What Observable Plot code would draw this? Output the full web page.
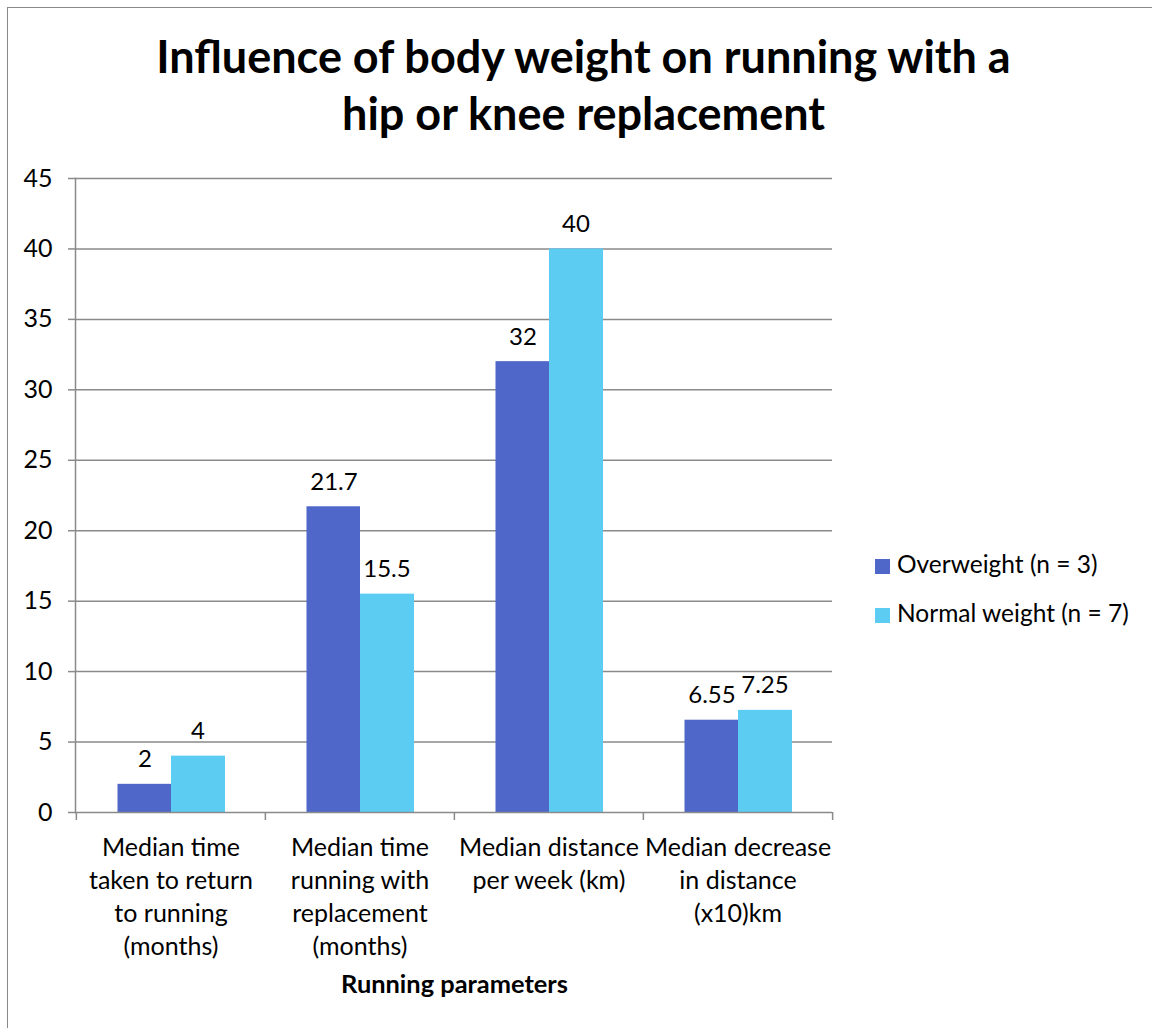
<!DOCTYPE html>
<html>
<head>
<meta charset="utf-8">
<script src="https://cdn.jsdelivr.net/npm/d3@7"></script>
<script src="https://cdn.jsdelivr.net/npm/@observablehq/plot@0.6"></script>
<style>
  html, body { margin: 0; padding: 0; background: #fff; }
  body { width: 1152px; height: 1028px; overflow: hidden; position: relative; font-family: Lato, "Open Sans", sans-serif; color: #000; }
  #border { position: absolute; left: 7px; top: 7px; width: 1300px; height: 1200px; border-left: 1.5px solid #888; border-top: 1.5px solid #888; box-sizing: border-box; }
  #chart { position: absolute; left: 0; top: 0; }
  #title { position: absolute; left: 583.5px; top: 28px; transform: translateX(-50%); white-space: nowrap; text-align: center; font-weight: 700; font-size: 45px; line-height: 57px; }
  #xtitle { position: absolute; left: 454.5px; top: 968px; transform: translateX(-50%); white-space: nowrap; font-weight: 700; font-size: 25.4px; line-height: 30.5px; }
  .leg { position: absolute; left: 875px; font-size: 24.5px; line-height: 29.4px; white-space: nowrap; }
  .leg .sw { position: absolute; left: 0; width: 15px; height: 15px; }
  .leg .lt { position: absolute; left: 22px; top: 0; }
</style>
</head>
<body>
<div id="border"></div>
<div id="chart"></div>
<div id="title">Influence of body weight on running with a<br>hip or knee replacement</div>
<div id="xtitle">Running parameters</div>
<div id="legend"></div>
<script>
// ---- data ----
const categories = [
  "Median time\ntaken to return\nto running\n(months)",
  "Median time\nrunning with\nreplacement\n(months)",
  "Median distance\nper week (km)",
  "Median decrease\nin distance\n(x10)km"
];
const seriesNames = ["Overweight (n = 3)", "Normal weight (n = 7)"];
const overweight = [2, 21.7, 32, 6.55];
const normalWeight = [4, 15.5, 40, 7.25];
const yTicks = [0, 5, 10, 15, 20, 25, 30, 35, 40, 45];
const colors = ["#4F67C8", "#5DCCF3"];

// ---- tables ----
const over = categories.map((c, i) => ({category: c, value: overweight[i], series: seriesNames[0]}));
const norm = categories.map((c, i) => ({category: c, value: normalWeight[i], series: seriesNames[1]}));

const W = 1152, H = 1028;
const mL = 75, mR = 320, mT = 178, mB = 216;
const band = (W - mL - mR) / categories.length;
const half = band / 2;
const gridColor = "#8a8a8a";

const chart = Plot.plot({
  width: W,
  height: H,
  marginLeft: mL,
  marginRight: mR,
  marginTop: mT,
  marginBottom: mB,
  style: {fontFamily: "Lato, 'Open Sans', sans-serif", fontSize: "25px", color: "#000", background: "transparent"},
  x: {domain: categories, padding: 0, axis: null},
  y: {domain: [0, 45], axis: null},
  marks: [
    Plot.gridY(yTicks.filter(d => d > 0), {stroke: gridColor, strokeOpacity: 1, strokeWidth: 1.5}),
    Plot.barY(over, {x: "category", y: "value", fill: colors[0], insetLeft: 41.5, insetRight: 94}),
    Plot.barY(norm, {x: "category", y: "value", fill: colors[1], insetLeft: 95, insetRight: 40}),
    Plot.text(over, {x: "category", y: "value", text: d => String(d.value), dx: -26, dy: -17, lineAnchor: "bottom", fontSize: 24, fill: "#000"}),
    Plot.text(norm, {x: "category", y: "value", text: d => String(d.value), dx: 27, dy: -17, lineAnchor: "bottom", fontSize: 24, fill: "#000"}),
    Plot.frame({anchor: "left", stroke: gridColor, strokeWidth: 1.5}),
    Plot.ruleY([0], {stroke: gridColor, strokeWidth: 1.5}),
    Plot.axisY(yTicks, {tickSize: 7, tickPadding: 16, stroke: gridColor, strokeWidth: 1.5, fontSize: 25, fill: "#000", label: null}),
    Plot.axisX({tickSize: 0, tickPadding: 20, fontSize: 25, lineHeight: 1.32, fill: "#000", label: null}),
    Plot.axisX({tickSize: 8, tickFormat: () => "", dx: -half, stroke: gridColor, strokeWidth: 1.5, label: null}),
    Plot.axisX([categories[categories.length - 1]], {tickSize: 8, tickFormat: () => "", dx: half, stroke: gridColor, strokeWidth: 1.5, label: null})
  ]
});
document.getElementById("chart").appendChild(chart);

// ---- legend ----
const legend = document.getElementById("legend");
const legTops = [549, 598];
seriesNames.forEach((name, i) => {
  const item = document.createElement("div");
  item.className = "leg";
  item.style.top = legTops[i] + "px";
  const sw = document.createElement("div");
  sw.className = "sw";
  sw.style.background = colors[i];
  sw.style.top = "10px";
  const lt = document.createElement("div");
  lt.className = "lt";
  lt.textContent = name;
  item.appendChild(sw);
  item.appendChild(lt);
  legend.appendChild(item);
});
</script>
</body>
</html>
